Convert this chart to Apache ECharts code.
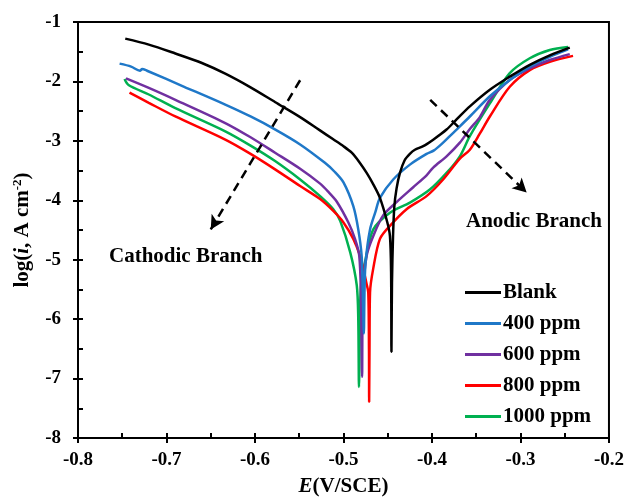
<!DOCTYPE html>
<html>
<head>
<meta charset="utf-8">
<script src="https://cdn.jsdelivr.net/npm/echarts@6/dist/echarts.min.js"></script>
<style>html,body{margin:0;padding:0;background:#fff}#c{width:627px;height:502px}</style>
</head>
<body>
<div id="c"></div>
<script>
// ---- data: [E (V/SCE), log(i)] ----
const seriesNames = ['Blank', '400 ppm', '600 ppm', '800 ppm', '1000 ppm'];
const seriesColors = ['#000000', '#1F78C8', '#7030A0', '#FF0000', '#00B050'];

const blank = [
  [-0.7466,-1.28],[-0.720,-1.38],[-0.690,-1.53],[-0.660,-1.69],[-0.6336,-1.87],[-0.605,-2.10],[-0.577,-2.35],
  [-0.549,-2.60],[-0.527,-2.82],[-0.512,-2.97],[-0.500,-3.09],[-0.4907,-3.20],[-0.482,-3.36],[-0.4738,-3.54],
  [-0.4660,-3.74],[-0.4588,-3.96],[-0.4505,-4.37],[-0.4475,-4.60],[-0.4462,-5.2],[-0.4458,-6.55],
  [-0.4452,-5.4],[-0.4440,-4.6],[-0.4425,-4.1],[-0.4400,-3.80],[-0.4362,-3.54],[-0.4310,-3.33],[-0.4250,-3.22],
  [-0.4193,-3.15],[-0.4099,-3.09],[-0.3986,-2.98],[-0.3835,-2.81],[-0.3722,-2.64],[-0.3572,-2.42],
  [-0.3346,-2.14],[-0.3121,-1.92],[-0.2895,-1.72],[-0.2669,-1.56],[-0.2443,-1.43]
];
const ppm400 = [
  [-0.753,-1.70],[-0.740,-1.75],[-0.730,-1.82],[-0.7275,-1.79],[-0.722,-1.82],[-0.680,-2.09],[-0.6336,-2.39],
  [-0.605,-2.59],[-0.577,-2.81],[-0.549,-3.06],[-0.521,-3.37],[-0.510,-3.52],[-0.500,-3.70],[-0.4889,-4.10],
  [-0.4833,-4.49],[-0.4795,-4.93],[-0.4782,-5.5],[-0.4770,-6.24],
  [-0.4762,-5.5],[-0.4750,-5.04],[-0.4700,-4.49],[-0.4640,-4.20],[-0.4588,-3.96],[-0.4438,-3.65],
  [-0.4249,-3.40],[-0.4061,-3.22],[-0.3977,-3.16],[-0.3874,-3.03],[-0.3798,-2.92],[-0.3722,-2.81],
  [-0.3572,-2.59],[-0.3346,-2.25],[-0.3121,-1.975],[-0.2895,-1.75],[-0.2669,-1.586],[-0.2462,-1.46]
];
const ppm600 = [
  [-0.7458,-1.95],[-0.720,-2.11],[-0.690,-2.31],[-0.6336,-2.70],[-0.605,-2.94],[-0.5773,-3.20],[-0.549,-3.47],
  [-0.5264,-3.72],[-0.517,-3.86],[-0.5077,-4.02],[-0.4946,-4.37],[-0.487,-4.65],[-0.4822,-4.93],[-0.4803,-5.6],[-0.4790,-6.97],
  [-0.4780,-5.6],[-0.4738,-4.93],[-0.4663,-4.60],[-0.4550,-4.25],[-0.4400,-4.03],[-0.4212,-3.78],
  [-0.4061,-3.58],[-0.3986,-3.45],[-0.3835,-3.26],[-0.3685,-3.03],[-0.3572,-2.80],[-0.3459,-2.60],
  [-0.3346,-2.31],[-0.3121,-1.975],[-0.2895,-1.78],[-0.2669,-1.64],[-0.2443,-1.54]
];
const ppm800 = [
  [-0.7418,-2.19],[-0.720,-2.36],[-0.690,-2.59],[-0.6336,-2.98],[-0.605,-3.22],[-0.5773,-3.48],[-0.549,-3.76],
  [-0.5264,-3.98],[-0.5115,-4.18],[-0.5002,-4.37],[-0.4889,-4.65],[-0.4814,-4.93],[-0.4777,-5.15],
  [-0.4740,-5.40],[-0.4720,-5.55],[-0.4712,-6.5],[-0.4710,-7.39],[-0.4706,-6.5],[-0.4700,-5.55],
  [-0.4664,-5.15],[-0.4588,-4.65],[-0.4475,-4.43],[-0.4287,-4.15],[-0.4061,-3.93],[-0.3874,-3.65],
  [-0.3685,-3.30],[-0.3572,-3.15],[-0.3460,-2.88],[-0.3346,-2.59],[-0.3121,-2.09],[-0.2895,-1.81],
  [-0.2669,-1.67],[-0.2406,-1.57]
];
const ppm1000 = [
  [-0.7474,-1.96],[-0.7429,-2.06],[-0.720,-2.22],[-0.690,-2.45],[-0.6336,-2.84],[-0.605,-3.08],[-0.5773,-3.34],
  [-0.549,-3.65],[-0.5264,-3.93],[-0.5115,-4.15],[-0.5036,-4.35],[-0.4923,-4.88],[-0.4850,-5.43],
  [-0.4833,-5.99],[-0.4825,-7.14],[-0.4812,-5.8],[-0.4800,-5.4],[-0.4757,-5.04],[-0.4663,-4.49],
  [-0.4475,-4.21],[-0.4249,-4.04],[-0.4024,-3.82],[-0.3835,-3.54],[-0.3685,-3.26],[-0.3572,-2.92],
  [-0.3346,-2.37],[-0.3121,-1.86],[-0.2895,-1.61],[-0.2669,-1.47],[-0.2462,-1.42]
];
const allData = [blank, ppm400, ppm600, ppm800, ppm1000];

// dashed arrows (annotation): [start, end] in data coordinates
const cathodicArrow = [[-0.549, -1.98], [-0.650, -4.49]];
const anodicArrow = [[-0.402, -2.31], [-0.293, -3.87]];

const xMin = -0.8, xMax = -0.2, xStep = 0.1;
const yMin = -8, yMax = -1, yStep = 1;

const FONT = 'Liberation Serif';
const chart = echarts.init(document.getElementById('c'), null, {renderer: 'canvas'});

const lblStyle = {color: '#000', fontFamily: FONT, fontWeight: 'bold', fontSize: 19};

const series = allData.map((d, i) => ({
  name: seriesNames[i], type: 'line', data: d, showSymbol: false, symbol: 'none',
  xAxisIndex: 0, yAxisIndex: 0, smooth: 0.3,
  lineStyle: {color: seriesColors[i], width: 2.5}, itemStyle: {color: seriesColors[i]},
  z: 5 - i, animation: false
}));
series.push({
  name: 'arrows', type: 'line', data: [], xAxisIndex: 0, yAxisIndex: 0, animation: false,
  markLine: {
    silent: true, symbol: ['none', 'arrow'], symbolSize: [11, 14], animation: false,
    label: {show: false},
    lineStyle: {color: '#000', width: 2.5, type: [9, 6]},
    emphasis: {disabled: true},
    data: [
      [{coord: cathodicArrow[0]}, {coord: cathodicArrow[1]}],
      [{coord: anodicArrow[0]}, {coord: anodicArrow[1]}]
    ]
  }
});

const baseX = {
  type: 'value', min: xMin, max: xMax, interval: xStep, position: 'bottom',
  splitLine: {show: false},
  axisLine: {show: true, onZero: false, lineStyle: {color: '#000', width: 2}}
};
const baseY = {
  type: 'value', min: yMin, max: yMax, interval: yStep, position: 'left',
  splitLine: {show: false},
  axisLine: {show: true, onZero: false, lineStyle: {color: '#000', width: 2}}
};

chart.setOption({
  backgroundColor: '#fff',
  animation: false,
  grid: {left: 78, right: 18, top: 22, bottom: 62, show: true, borderColor: '#000', borderWidth: 2, containLabel: false},
  xAxis: [
    Object.assign({}, baseX, {
      axisTick: {show: true, inside: false, length: 5, lineStyle: {width: 2, color: '#000'}},
      axisLabel: Object.assign({margin: 13, formatter: v => v.toFixed(1)}, lblStyle),
      name: '{it|E}{n|(V/SCE)}', nameLocation: 'middle', nameGap: 38,
      nameTextStyle: {rich: {
        it: {fontFamily: FONT, fontWeight: 'bold', fontStyle: 'italic', fontSize: 21, color: '#000'},
        n: {fontFamily: FONT, fontWeight: 'bold', fontSize: 21, color: '#000'}
      }}
    }),
    Object.assign({}, baseX, {
      axisTick: {show: true, inside: true, length: 5, lineStyle: {width: 2, color: '#000'}},
      minorTick: {show: true, splitNumber: 2, length: 5, lineStyle: {width: 2, color: '#000'}},
      axisLabel: {show: false}
    })
  ],
  yAxis: [
    Object.assign({}, baseY, {
      axisTick: {show: true, inside: false, length: 5, lineStyle: {width: 2, color: '#000'}},
      axisLabel: Object.assign({margin: 17}, lblStyle),
      name: '{n|log(}{it|i}{n|, A cm}{sup|-2}{n|)}', nameLocation: 'middle', nameGap: 43, nameRotate: 90,
      nameTextStyle: {rich: {
        it: {fontFamily: FONT, fontWeight: 'bold', fontStyle: 'italic', fontSize: 21, color: '#000', lineHeight: 24},
        n: {fontFamily: FONT, fontWeight: 'bold', fontSize: 21, color: '#000', lineHeight: 24},
        sup: {fontFamily: FONT, fontWeight: 'bold', fontSize: 13, color: '#000', lineHeight: 12, verticalAlign: 'top'}
      }}
    }),
    Object.assign({}, baseY, {
      axisTick: {show: true, inside: true, length: 5, lineStyle: {width: 2, color: '#000'}},
      minorTick: {show: true, splitNumber: 2, length: 5, lineStyle: {width: 2, color: '#000'}},
      axisLabel: {show: false}
    })
  ],
  legend: {
    data: seriesNames, orient: 'vertical', left: 460, top: 277,
    itemWidth: 36, itemHeight: 3, itemGap: 10, icon: 'rect',
    selectedMode: false,
    textStyle: {fontFamily: FONT, fontWeight: 'bold', fontSize: 21, color: '#000', lineHeight: 21, padding: [0, 0, 0, -3]}
  },
  graphic: [
    {type: 'text', left: 109, top: 246, style: {text: 'Cathodic Branch', fontFamily: FONT, fontWeight: 'bold', fontSize: 21, fill: '#000'}},
    {type: 'text', left: 466, top: 211, style: {text: 'Anodic Branch', fontFamily: FONT, fontWeight: 'bold', fontSize: 21, fill: '#000'}}
  ],
  series: series
});
</script>
</body>
</html>
